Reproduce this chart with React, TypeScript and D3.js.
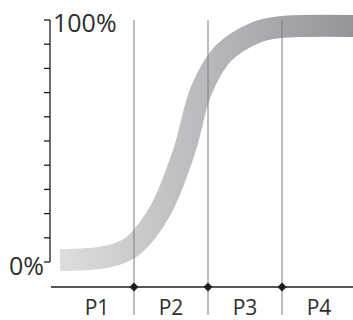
import React from "react";
import * as d3 from "d3";

const periods = ["P1", "P2", "P3", "P4"];
const boundaries = [1, 2, 3];
const yTicks = [0, 10, 20, 30, 40, 50, 60, 70, 80, 90, 100];
const yLabels = [
  { v: 100, text: "100%" },
  { v: 0, text: "0%" },
];
const curveT = [0, 0.54, 0.81, 1.0, 1.36, 1.68, 1.91, 2.2, 2.66, 2.97, 3.97];
const curveV = [0.8, 1.7, 3.7, 7, 21.5, 46, 71, 86, 95, 97, 97.5];

const W = 353;
const H = 320;

export default function App() {
  const x = d3.scaleLinear().domain([0, 4]).range([60, 356]);
  const y = d3.scaleLinear().domain([0, 100]).range([262, 20]);
  const pts = curveT.map((t, i) => [t, curveV[i]] as [number, number]);
  const line = d3
    .line<[number, number]>()
    .x((d) => x(d[0]))
    .y((d) => y(d[1]))
    .curve(d3.curveCatmullRom.alpha(0.5));
  const axisY = 287;
  const font = "'Open Sans', sans-serif";
  return (
    <svg
      width={W}
      height={H}
      style={{ position: "absolute", left: 0, top: 0, background: "#fff" }}
    >
      <defs>
        <linearGradient
          id="grad"
          gradientUnits="userSpaceOnUse"
          x1={x(0)}
          x2={W}
          y1={0}
          y2={0}
        >
          <stop offset="0" stopColor="#dddddf" />
          <stop offset="1" stopColor="#939498" />
        </linearGradient>
      </defs>
      <path
        d={line(pts) || ""}
        fill="none"
        stroke="url(#grad)"
        strokeWidth={22}
        strokeLinecap="butt"
      />
      {boundaries.map((b) => (
        <line
          key={b}
          x1={x(b)}
          x2={x(b)}
          y1={y(100)}
          y2={315}
          stroke="#7c7c7c"
          strokeWidth={1}
        />
      ))}
      <line x1={50} x2={50} y1={y(100)} y2={y(0)} stroke="#1e1e1e" strokeWidth={1.3} />
      {yTicks.map((t) => (
        <line
          key={t}
          x1={44}
          x2={50}
          y1={y(t)}
          y2={y(t)}
          stroke="#1e1e1e"
          strokeWidth={1.3}
        />
      ))}
      <line x1={51} x2={W} y1={axisY} y2={axisY} stroke="#1e1e1e" strokeWidth={1.3} />
      {boundaries.map((b) => (
        <path
          key={"d" + b}
          d={`M${x(b)},${axisY - 4.5}L${x(b) + 4.5},${axisY}L${x(b)},${axisY + 4.5}L${x(b) - 4.5},${axisY}Z`}
          fill="#1e1e1e"
        />
      ))}
      <text x={53} y={32} fontFamily={font} fontSize={25} fill="#2e2e2e">
        {yLabels[0].text}
      </text>
      <text
        x={44}
        y={275}
        fontFamily={font}
        fontSize={25}
        fill="#2e2e2e"
        textAnchor="end"
      >
        {yLabels[1].text}
      </text>
      {periods.map((p, i) => (
        <text
          key={p}
          x={x(i + 0.5)}
          y={315}
          fontFamily={font}
          fontSize={21}
          fill="#2e2e2e"
          textAnchor="middle"
        >
          {p}
        </text>
      ))}
    </svg>
  );
}
